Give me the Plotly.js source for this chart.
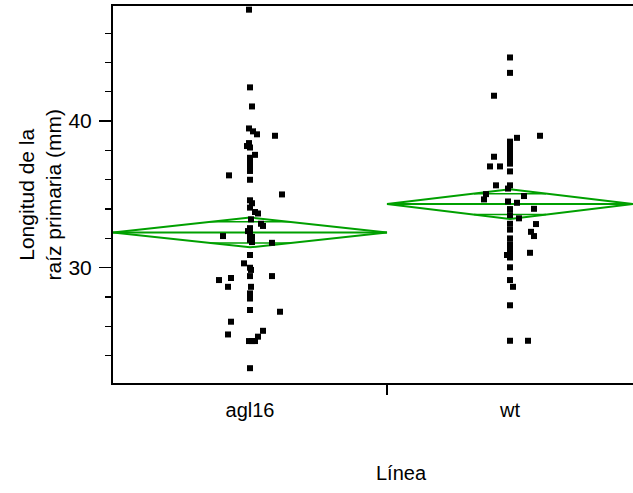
<!DOCTYPE html>
<html>
<head>
<meta charset="utf-8">
<script src="https://cdn.plot.ly/plotly-3.0.1.min.js"></script>
<style>html,body{margin:0;padding:0;background:#fff;} #chart{width:633px;height:493px;}</style>
</head>
<body>
<div id="chart"></div>
<script>
// Categories and relative group widths (JMP scales group width by sample size)
const categories = ["agl16", "wt"];
const groupWidths = [1.0, 0.898];

// Group means and 95% CI half-widths read from the diamonds
const groupMeans = [32.41, 34.34];
const groupCIHalf = [1.02, 1.01];

// agl16 observations (mm) and horizontal jitter (in group-width units)
const agl16Values = [47.6, 42.3, 41.0, 39.5, 39.3, 39.1, 39.0, 38.5, 38.3, 38.2, 37.7, 37.5, 37.2, 36.9, 36.6, 36.3, 36.0, 35.0, 34.6, 34.4, 34.1, 33.8, 33.7, 33.3, 33.0, 32.85, 32.7, 32.5, 32.3, 32.16, 32.1, 31.9, 31.7, 31.75, 30.87, 30.3, 30.0, 29.85, 29.43, 29.43, 29.3, 29.16, 28.7, 28.7, 28.25, 27.9, 27.12, 27.0, 26.32, 25.7, 25.45, 25.3, 25.0, 25.0, 25.0, 23.15];
const agl16Jitter = [-1, 0, 2, -1, 3, 7, 25, -1, -3, 0, 5, 0, 0, 0, 0, -21, 0, 32, 0, 2, 0, 5, 8, 1, 11, 13, 0, -2, 0, -27, 2, 0, 22, 2, 0, -6, 0, 1, 0, 22, -19, -31, -22, 1, 0, 0, 0, 30, -19, 13, -22, 8, -1, 2, 5, 0].map(v => v / 274);

// wt observations (mm) and horizontal jitter
const wtValues = [44.34, 43.29, 41.73, 39.0, 38.86, 38.6, 38.3, 38.0, 37.7, 37.57, 37.4, 37.1, 36.91, 36.91, 36.57, 35.62, 35.62, 35.4, 35.02, 34.89, 34.66, 34.52, 34.43, 34.0, 34.02, 33.59, 33.37, 33.0, 32.98, 32.6, 32.45, 32.16, 32.0, 31.6, 31.3, 31.0, 31.02, 30.87, 30.7, 30.03, 29.16, 28.7, 27.44, 25.02, 25.02];
const wtJitter = [0, 0, -16, 30, 7, 0, 0, 0, 0, -16, 0, 0, -20, -10, 0, -14, 0, -2, -24, 14, -26, -2, 7, 0, 24, 0, 9, 0, 26, 0, 21, 24, 0, 0, 0, 0, 20, -3, 0, 0, 0, 3, 0, 0, 18].map(v => v / 274);

// Y axis ticks
const yTickVals = [30, 40];
const yTickText = ["30", "40"];

// ---- build geometry from data ----
const starts = [0, groupWidths[0]];
const centers = starts.map((s, i) => s + groupWidths[i] / 2);
const totalWidth = groupWidths[0] + groupWidths[1];

const green = "#00a000";
const traces = [];

const valuesByGroup = [agl16Values, wtValues];
const jitterByGroup = [agl16Jitter, wtJitter];

for (let g = 0; g < 2; g++) {
  const x0 = starts[g], x1 = starts[g] + groupWidths[g], xc = centers[g];
  const m = groupMeans[g], h = groupCIHalf[g];
  traces.push({type: "scatter", mode: "lines", x: [x0, xc, x1, xc, x0], y: [m, m + h, m, m - h, m],
    line: {color: green, width: 2}, hoverinfo: "skip", showlegend: false});
  traces.push({type: "scatter", mode: "lines", x: [x0, x1], y: [m, m],
    line: {color: green, width: 2}, hoverinfo: "skip", showlegend: false});
  const o = h / Math.SQRT2;
  const hw = (groupWidths[g] / 2) * (1 - 1 / Math.SQRT2);
  traces.push({type: "scatter", mode: "lines", x: [xc - hw, xc + hw, null, xc - hw, xc + hw], y: [m + o, m + o, null, m - o, m - o],
    line: {color: green, width: 1.5}, hoverinfo: "skip", showlegend: false});
}

for (let g = 0; g < 2; g++) {
  traces.push({type: "scatter", mode: "markers",
    x: valuesByGroup[g].map((v, i) => centers[g] + jitterByGroup[g][i]),
    y: valuesByGroup[g],
    marker: {symbol: "square", size: 6, color: "#000"},
    name: categories[g], showlegend: false});
}

traces.push({type: "scatter", mode: "markers", x: [0], y: [30], xaxis: "x2", marker: {opacity: 0}, hoverinfo: "skip", showlegend: false});

const font = {family: "Liberation Sans, Arial, sans-serif", color: "#000"};

const layout = {
  width: 633, height: 493,
  margin: {l: 113, r: 0, t: 6, b: 110},
  paper_bgcolor: "#fff", plot_bgcolor: "#fff",
  font: Object.assign({size: 20}, font),
  showlegend: false,
  xaxis: {
    range: [0, totalWidth], tickvals: centers, ticktext: categories,
    ticks: "", showgrid: false, zeroline: false,
    showline: true, linecolor: "#000", linewidth: 2, mirror: true,
    tickfont: Object.assign({size: 20}, font), ticklabelstandoff: 8, fixedrange: true
  },
  xaxis2: {
    overlaying: "x", range: [0, totalWidth], tickvals: [groupWidths[0]],
    ticks: "outside", ticklen: 11, tickwidth: 1.5, tickcolor: "#000",
    showticklabels: false, showgrid: false, zeroline: false, showline: false, fixedrange: true
  },
  yaxis: {
    range: [22.14, 47.85], tickvals: yTickVals, ticktext: yTickText,
    ticks: "outside", ticklen: 12, tickwidth: 1.5, tickcolor: "#000",
    minor: {dtick: 2, tick0: 0, ticks: "outside", ticklen: 6, tickwidth: 1.2, tickcolor: "#000", showgrid: false},
    showgrid: false, zeroline: false, showline: true, linecolor: "#000", linewidth: 2,
    tickfont: Object.assign({size: 21}, font), ticklabelstandoff: 3,
    fixedrange: true
  },
  annotations: [{
    text: "Longitud de la<br>raíz primaria (mm)", xref: "paper", yref: "paper",
    x: 0, xshift: -74, y: 0.5, xanchor: "center", yanchor: "middle", textangle: -90,
    showarrow: false, font: Object.assign({size: 21}, font)
  }, {
    text: "Línea", xref: "paper", yref: "paper", x: (401 - 113) / 520, y: 0, yshift: -90,
    xanchor: "center", yanchor: "middle", showarrow: false, font: Object.assign({size: 20}, font)
  }]
};

Plotly.newPlot("chart", traces, layout, {displayModeBar: false, staticPlot: true});
</script>
</body>
</html>
